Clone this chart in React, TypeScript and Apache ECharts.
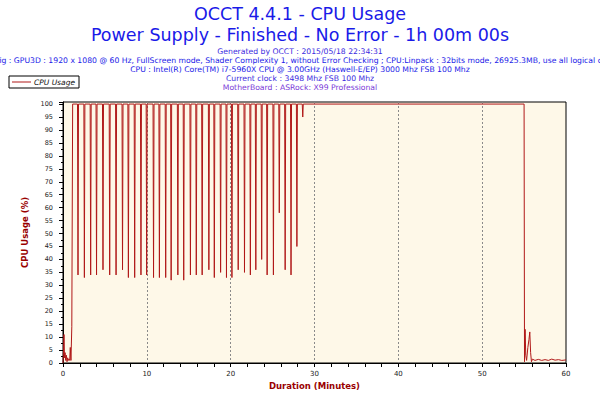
import React, { useEffect, useRef } from "react";
import * as echarts from "echarts";

// ---- Data ----
const titleLines = [
  "OCCT 4.4.1 - CPU Usage",
  "Power Supply - Finished - No Error - 1h 00m 00s",
];
const infoLines = [
  "Generated by OCCT : 2015/05/18 22:34:31",
  "Config : GPU3D : 1920 x 1080 @ 60 Hz, FullScreen mode, Shader Complexity 1, without Error Checking ; CPU:Linpack : 32bits mode, 26925.3MB, use all logical cores",
  "CPU : Intel(R) Core(TM) i7-5960X CPU @ 3.00GHz (Haswell-E/EP) 3000 Mhz FSB 100 Mhz",
  "Current clock : 3498 Mhz FSB 100 Mhz",
  "MotherBoard : ASRock: X99 Professional",
];
const seriesName = "CPU Usage";

// start-up phase (minutes, %)
const startMinutes = [0, 0.05, 0.12, 0.18, 0.25, 0.32, 0.4, 0.48, 0.56, 0.64, 0.72, 0.8, 0.87, 0.95, 1.05, 1.15];
const startUsage = [0, 3, 11, 2, 4, 1, 3, 0.5, 2, 1, 1.5, 1, 6, 1, 14, 100];

// load phase: plateau at 100 % with short drops
const plateauUsage = 100;
const dropMinutes = [
  1.79, 2.55, 3.3, 4.0, 4.77, 5.57, 6.33, 7.1, 7.8, 8.55, 9.3, 9.98, 10.8, 11.5,
  12.25, 12.9, 13.7, 14.4, 15.2, 15.9, 16.6, 17.4, 18.05, 18.8, 19.5, 20.15,
  20.9, 21.65, 22.35, 23.0, 23.7, 24.35, 25.1, 25.8, 26.5, 27.2, 27.9, 28.6,
];
const dropLows = [
  34, 33, 34, 34, 36, 34, 34, 36, 33, 33, 34, 34, 33, 33,
  33, 32, 34, 32, 34, 34, 34, 36, 33, 35, 33, 33,
  36, 35, 34, 36, 40, 34, 34, 58, 36, 34, 45, 95,
];

// idle phase after the test
const endMinutes = [55.0, 55.05, 55.12, 55.2, 55.3, 55.45, 55.58, 55.68, 55.78, 55.88, 56.0, 56.3, 56.7, 57.1, 57.5, 57.9, 58.3, 58.7, 59.1, 59.5, 60];
const endUsage = [100, 0.5, 13, 3, 1, 6, 9, 12, 4, 0.5, 1.5, 1, 1.4, 1, 1.3, 1, 1.5, 1.1, 1.3, 1, 1.2];

const xLabelMinutes = [0, 10, 20, 30, 40, 50, 60];

function buildSeries(): [number, number][] {
  const pts: [number, number][] = [];
  startMinutes.forEach((m, i) => pts.push([m, startUsage[i]]));
  dropMinutes.forEach((m, i) => {
    pts.push([m - 0.06, plateauUsage]);
    pts.push([m, dropLows[i]]);
    pts.push([m + 0.06, plateauUsage]);
  });
  endMinutes.forEach((m, i) => pts.push([m, endUsage[i]]));
  return pts;
}

const SANS = "'DejaVu Sans', Verdana, sans-serif";

export default function App() {
  const ref = useRef<HTMLDivElement>(null);
  useEffect(() => {
    if (!ref.current) return;
    const chart = echarts.init(ref.current, undefined, { renderer: "svg" });
    const blue = "#1a1ae8";
    const option: any = {
      animation: false,
      backgroundColor: "#ffffff",
      graphic: [
        ...titleLines.map((t, i) => ({
          type: "text",
          x: 300,
          y: 14 + i * 21,
          style: {
            text: t,
            fill: blue,
            font: `17.5px ${SANS}`,
            align: "center",
            verticalAlign: "middle",
          },
        })),
        ...infoLines.map((t, i) => ({
          type: "text",
          x: 300,
          y: 51.5 + i * 9,
          style: {
            text: t,
            fill: i === infoLines.length - 1 ? "#7a3ad8" : i === 0 || i === 3 ? "#3a2ae0" : "#1a1ae8",
            font: `7.7px ${SANS}`,
            align: "center",
            verticalAlign: "middle",
          },
        })),
      ],
      legend: {
        left: 9,
        top: 76,
        orient: "horizontal",
        padding: [2, 4, 2, 3],
        borderColor: "#000",
        borderWidth: 1,
        icon: "rect",
        itemWidth: 19,
        itemHeight: 1,
        itemGap: 4,
        textStyle: {
          fontSize: 7.5,
          fontStyle: "italic",
          color: "#111",
          fontFamily: SANS,
          padding: [0, 0, 0, -2],
        },
        data: [seriesName],
      },
      grid: {
        left: 63,
        right: 34,
        top: 102,
        bottom: 37,
        show: true,
        backgroundColor: "#fef8e8",
        borderColor: "#000",
        borderWidth: 1,
      },
      xAxis: [
        {
          type: "value",
          min: 0,
          max: 60,
          interval: 2,
          axisLine: { lineStyle: { color: "#000", width: 1 } },
          axisTick: { length: 4, lineStyle: { color: "#000" } },
          axisLabel: {
            fontSize: 7,
            color: "#222",
            margin: 7,
            fontFamily: SANS,
            formatter: (v: number) => (xLabelMinutes.includes(v) ? String(v) : ""),
          },
          splitLine: { show: false },
          name: "Duration (Minutes)",
          nameLocation: "middle",
          nameGap: 17,
          nameTextStyle: {
            color: "#990000",
            fontWeight: "bold",
            fontSize: 8.5,
            fontFamily: SANS,
          },
        },
        {
          type: "value",
          min: 0,
          max: 60,
          interval: 10,
          position: "bottom",
          axisLine: { show: false },
          axisTick: { show: false },
          axisLabel: { show: false },
          splitLine: {
            show: true,
            showMinLine: false,
            showMaxLine: false,
            lineStyle: { color: "#8a8a8a", type: [2, 2], width: 1 },
          },
        },
      ],
      yAxis: {
        type: "value",
        min: 0,
        max: 100.8,
        interval: 5,
        axisLine: { show: true, lineStyle: { color: "#000", width: 1 } },
        axisTick: { show: true, length: 4, lineStyle: { color: "#000" } },
        minorTick: { show: true, splitNumber: 2, length: 2, lineStyle: { color: "#000" } },
        axisLabel: {
          fontSize: 6.5,
          color: "#222",
          margin: 10,
          showMaxLabel: false,
          fontFamily: SANS,
          formatter: (v: number) => (v % 5 === 0 && v <= 100 ? String(v) : ""),
        },
        splitLine: { show: false },
        name: "CPU Usage (%)",
        nameLocation: "middle",
        nameGap: 23,
        nameRotate: 90,
        nameTextStyle: {
          color: "#990000",
          fontWeight: "bold",
          fontSize: 8.5,
          fontFamily: SANS,
        },
      },
      series: [
        {
          name: seriesName,
          type: "line",
          xAxisIndex: 0,
          data: buildSeries(),
          symbol: "none",
          showSymbol: false,
          lineStyle: { color: "#b01818", width: 1 },
          itemStyle: { color: "#b01818" },
        },
      ],
    };
    chart.setOption(option);
    return () => chart.dispose();
  }, []);
  return <div ref={ref} style={{ width: 600, height: 400, position: "absolute", left: 0, top: 0 }} />;
}
